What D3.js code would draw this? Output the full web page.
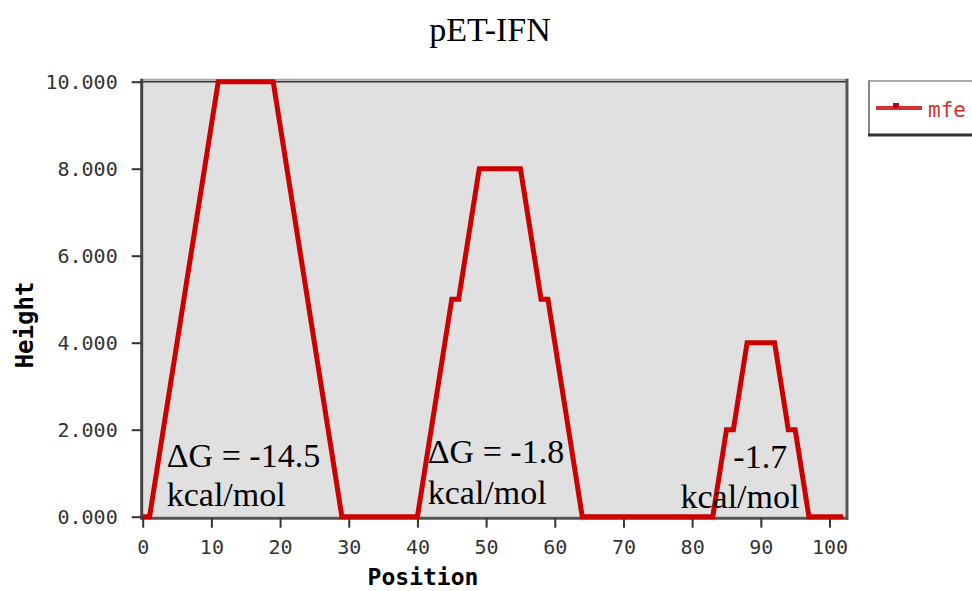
<!DOCTYPE html>
<html>
<head>
<meta charset="utf-8">
<script src="https://cdnjs.cloudflare.com/ajax/libs/d3/7.8.5/d3.min.js"></script>
<style>
  body { margin: 0; background: #fff; }
  .tick text { font-family: "DejaVu Sans Mono", monospace; font-size: 20px; fill: #333; }
  .tick line { stroke: #333; stroke-width: 2; }
</style>
</head>
<body>
<svg width="972" height="591"></svg>
<script>
// Data (mountain plot heights, one per position 0..102)
let heights = [
  0, 0, 1, 2, 3, 4, 5, 6, 7, 8, 9, 10, 10, 10, 10, 10, 10, 10, 10, 10,
  9, 8, 7, 6, 5, 4, 3, 2, 1, 0, 0, 0, 0, 0, 0, 0, 0, 0, 0, 0,
  0, 1, 2, 3, 4, 5, 5, 6, 7, 8, 8, 8, 8, 8, 8, 8, 7, 6, 5, 5,
  4, 3, 2, 1, 0, 0, 0, 0, 0, 0, 0, 0, 0, 0, 0, 0, 0, 0, 0, 0,
  0, 0, 0, 0, 1, 2, 2, 3, 4, 4, 4, 4, 4, 3, 2, 2, 1, 0, 0, 0,
  0, 0, 0
];
let xTicks = [0, 10, 20, 30, 40, 50, 60, 70, 80, 90, 100];
let yTicks = [0, 2, 4, 6, 8, 10];
let seriesName = "mfe";
let chartTitle = "pET-IFN";
// free energy notes: two lines of text and where they sit (data units)
let notes = [
  { line1: "\u0394G = -14.5", line2: "kcal/mol", x1: 3.5, x2: 3.5, y1: 1.15, y2: 0.25 },
  { line1: "\u0394G = -1.8", line2: "kcal/mol", x1: 41.5, x2: 41.5, y1: 1.23, y2: 0.29 },
  { line1: "-1.7", line2: "kcal/mol", x1: 86, x2: 78.3, y1: 1.12, y2: 0.19 }
];

let svg = d3.select("svg");

// Plot area
let plot = { left: 142.7, right: 846, top: 81.7, bottom: 516.7 };

let x = d3.scaleLinear()
  .domain([0, 102.4])
  .range([plot.left, plot.right]);

let y = d3.scaleLinear()
  .domain([0, 10])
  .range([plot.bottom, plot.top]);

// Grey background
svg.append("rect")
  .attr("x", plot.left)
  .attr("y", plot.top)
  .attr("width", plot.right - plot.left)
  .attr("height", plot.bottom - plot.top)
  .attr("fill", "#e0e0e0");

// Borders
svg.append("line")
  .attr("x1", plot.left - 1).attr("x2", plot.right + 1)
  .attr("y1", plot.top - 2).attr("y2", plot.top - 2)
  .attr("stroke", "#a8a8a8").attr("stroke-width", 2);
svg.append("line")
  .attr("x1", plot.left - 1).attr("x2", plot.right + 1)
  .attr("y1", plot.top).attr("y2", plot.top)
  .attr("stroke", "#333").attr("stroke-width", 1.5);
svg.append("line")
  .attr("x1", plot.right + 1).attr("x2", plot.right + 1)
  .attr("y1", plot.top - 3).attr("y2", plot.bottom + 3)
  .attr("stroke", "#555").attr("stroke-width", 3);
svg.append("line")
  .attr("x1", plot.left - 1).attr("x2", plot.right + 2)
  .attr("y1", plot.bottom + 1.5).attr("y2", plot.bottom + 1.5)
  .attr("stroke", "#555").attr("stroke-width", 3);
svg.append("line")
  .attr("x1", plot.left - 1).attr("x2", plot.left - 1)
  .attr("y1", plot.top - 3).attr("y2", plot.bottom + 3)
  .attr("stroke", "#444").attr("stroke-width", 3);

// Axes
let xAxis = svg.append("g")
  .attr("transform", "translate(0," + (plot.bottom + 1) + ")")
  .call(d3.axisBottom(x).tickValues(xTicks).tickSize(10));
xAxis.select(".domain").remove();
xAxis.selectAll("text").attr("y", 36).attr("dy", null);

let yAxis = svg.append("g")
  .attr("transform", "translate(" + (plot.left - 1) + ",0)")
  .call(d3.axisLeft(y).tickValues(yTicks).tickSize(10).tickPadding(14).tickFormat(d3.format(".3f")));
yAxis.select(".domain").remove();
yAxis.selectAll("text").attr("dy", "0.36em");

// The line
let line = d3.line()
  .x((d, i) => x(i))
  .y(d => y(d));

svg.append("path")
  .datum(heights)
  .attr("d", line)
  .attr("fill", "none")
  .attr("stroke", "#cc0000")
  .attr("stroke-width", 5)
  .attr("stroke-linejoin", "miter");

// Energy notes
notes.forEach(function(n) {
  svg.append("text")
    .attr("x", x(n.x1))
    .attr("y", y(n.y1))
    .attr("font-family", "Liberation Serif, Times New Roman, serif")
    .attr("font-size", "34px")
    .text(n.line1);
  svg.append("text")
    .attr("x", x(n.x2))
    .attr("y", y(n.y2))
    .attr("font-family", "Liberation Serif, Times New Roman, serif")
    .attr("font-size", "34px")
    .text(n.line2);
});

// Title
svg.append("text")
  .attr("x", 490)
  .attr("y", 41)
  .attr("text-anchor", "middle")
  .attr("font-family", "Liberation Serif, Times New Roman, serif")
  .attr("font-size", "34px")
  .text(chartTitle);

// Axis labels
svg.append("text")
  .attr("x", 423)
  .attr("y", 585)
  .attr("text-anchor", "middle")
  .attr("font-family", "DejaVu Sans Mono, monospace")
  .attr("font-weight", "bold")
  .attr("font-size", "23px")
  .text("Position");

svg.append("text")
  .attr("transform", "translate(33,325) rotate(-90)")
  .attr("text-anchor", "middle")
  .attr("font-family", "DejaVu Sans Mono, monospace")
  .attr("font-weight", "bold")
  .attr("font-size", "24px")
  .text("Height");

// Legend
let legend = svg.append("g").attr("transform", "translate(868,80)");
legend.append("rect")
  .attr("width", 120).attr("height", 56)
  .attr("fill", "#fff");
legend.append("line")
  .attr("x1", 0).attr("x2", 120).attr("y1", 1).attr("y2", 1)
  .attr("stroke", "#aaa").attr("stroke-width", 2);
legend.append("line")
  .attr("x1", 1).attr("x2", 1).attr("y1", 0).attr("y2", 56)
  .attr("stroke", "#888").attr("stroke-width", 2);
legend.append("line")
  .attr("x1", 0).attr("x2", 120).attr("y1", 55).attr("y2", 55)
  .attr("stroke", "#333").attr("stroke-width", 3);
legend.append("line")
  .attr("x1", 8).attr("x2", 54).attr("y1", 28).attr("y2", 28)
  .attr("stroke", "#d43030").attr("stroke-width", 4);
legend.append("rect")
  .attr("x", 25).attr("y", 23).attr("width", 6).attr("height", 5)
  .attr("fill", "#c00000");
legend.append("text")
  .attr("x", 60)
  .attr("y", 37)
  .attr("font-family", "DejaVu Sans Mono, monospace")
  .attr("font-size", "21px")
  .attr("fill", "#d43030")
  .text(seriesName);
</script>
</body>
</html>
